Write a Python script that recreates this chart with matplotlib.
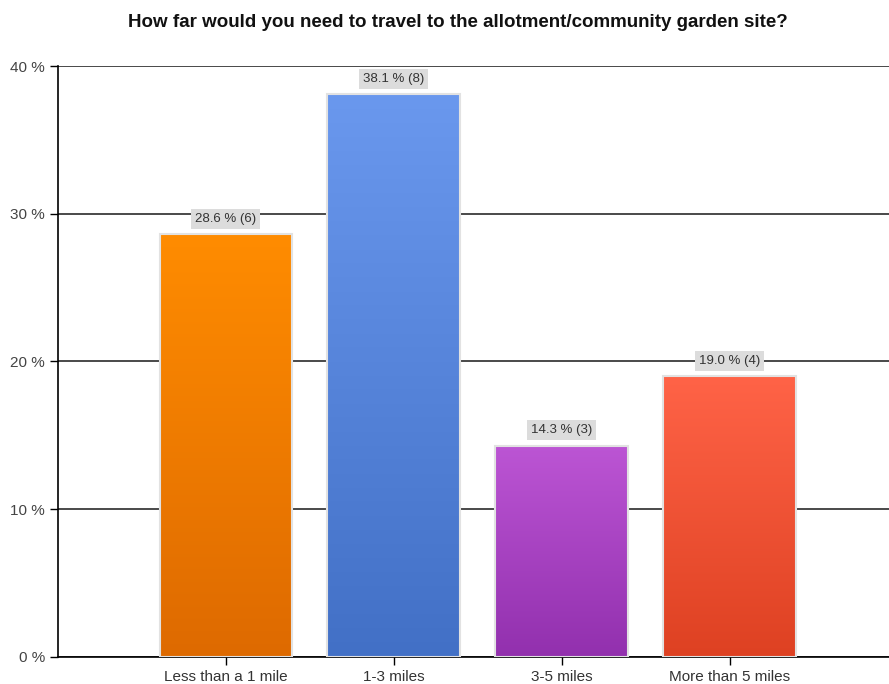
import numpy as np
import matplotlib.pyplot as plt
from matplotlib.colors import LinearSegmentedColormap

# data
categories = ['Less than a 1 mile', '1-3 miles', '3-5 miles', 'More than 5 miles']
percents = [28.6, 38.1, 14.3, 19.0]
counts = [6, 8, 3, 4]
top_colors = ['#FF8C00', '#6A98EE', '#BC55D4', '#FF6347']
bottom_colors = ['#DE6A00', '#4270C6', '#9230AE', '#DE4122']
y_ticks = [0, 10, 20, 30, 40]

plt.rcParams['font.family'] = ['Liberation Sans', 'DejaVu Sans']

fig = plt.figure(figsize=(8.89, 6.84), dpi=100)
ax = fig.add_axes([0.0652, 0.0395, 0.9348, 0.864])

x = np.arange(len(categories))
width = 0.79

ax.set_axisbelow(True)
ax.yaxis.grid(True, color='#3a3a3a', linewidth=1.3)

bars = ax.bar(x, percents, width=width, color='none', edgecolor='#E2E2E2',
              linewidth=1.5, zorder=3)

# vertical gradient fill for each bar
for bar, c_top, c_bot in zip(bars, top_colors, bottom_colors):
    cmap = LinearSegmentedColormap.from_list('g', [c_bot, c_top])
    grad = np.linspace(0, 1, 256).reshape(-1, 1)
    x0, w, h = bar.get_x(), bar.get_width(), bar.get_height()
    im = ax.imshow(grad, cmap=cmap, origin='lower', aspect='auto',
                   extent=[x0, x0 + w, 0, h], zorder=2)
    im.set_clip_path(bar)

# value labels
for xi, p, n in zip(x, percents, counts):
    ax.annotate(f'{p:.1f} % ({n})', xy=(xi, p), xytext=(0, 11),
                textcoords='offset points', ha='center', va='center',
                fontsize=9.5, color='#333333', zorder=5,
                bbox=dict(boxstyle='square,pad=0.3', fc='#DCDCDC', ec='none'))

ax.set_xlim(-1, 3.95)
ax.set_ylim(0, 40)
ax.set_xticks(x)
ax.set_xticklabels(categories, fontsize=11, color='#333333')
ax.set_yticks(y_ticks)
ax.set_yticklabels([f'{t} %' for t in y_ticks], fontsize=11, color='#444444')
ax.tick_params(axis='both', length=6, width=1, color='black', direction='out')

for s in ['top', 'right']:
    ax.spines[s].set_visible(False)
for s in ['left', 'bottom']:
    ax.spines[s].set_color('black')
    ax.spines[s].set_linewidth(1.2)

fig.text(0.515, 0.967, 'How far would you need to travel to the allotment/community garden site?',
         ha='center', va='center', fontsize=13.5, fontweight='bold', color='#111111')

fig.savefig('out.png', dpi=100)
